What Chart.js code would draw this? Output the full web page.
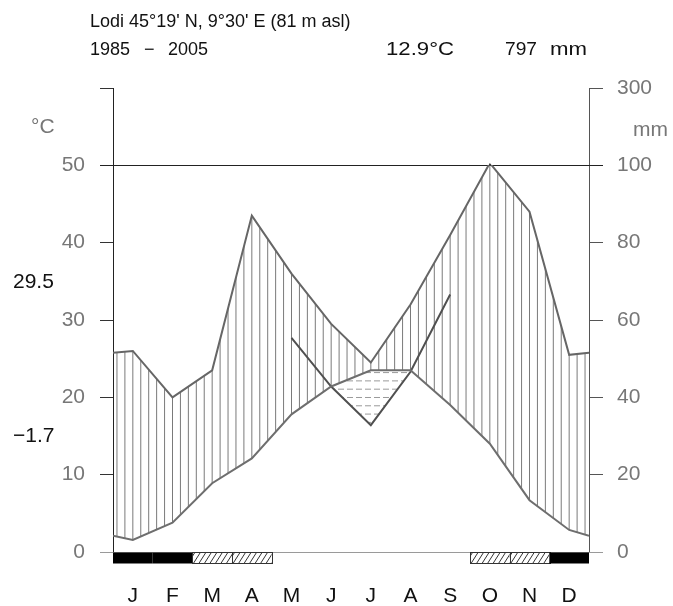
<!DOCTYPE html>
<html>
<head>
<meta charset="utf-8">
<script src="https://cdn.jsdelivr.net/npm/chart.js@4/dist/chart.umd.min.js"></script>
<style>
  html, body { margin: 0; padding: 0; background: #fff; }
</style>
</head>
<body>
<canvas id="klima" width="673" height="606"></canvas>
<script>
const FONT = '"Liberation Sans", Arial, sans-serif';

// monthly means, Lodi 1985-2005
const months = ['J', 'F', 'M', 'A', 'M', 'J', 'J', 'A', 'S', 'O', 'N', 'D'];
const tempC = [1.55, 3.8, 8.9, 12.1, 17.8, 21.4, 23.5, 23.5, 19.0, 14.0, 6.7, 2.85];
const precipMm = [52, 40, 47, 87, 72, 59, 49, 64, 82, 106, 88, 51];
// values at the Dec/Jan boundary, drawn at both edges of the year
const tempWrap = 2.1;
const precipWrap = 51.5;
// summer curve used for the dry-period shading (°C units)
const aridC = [null, null, null, null, 27.7, 21.4, 16.4, 23.3, 33.3, null, null, null];
// frost: 'c' = certain, 'p' = probable
const frost = ['c', 'c', 'p', 'p', '', '', '', '', '', 'p', 'p', 'c'];
const leftTicks = ['0', '10', '20', '30', '40', '50', ''];
const rightTicks = ['0', '20', '40', '60', '80', '100', '300'];

// 2 mm per °C up to 100 mm, compressed 1:10 above
const mmToC = mm => mm <= 100 ? mm / 2 : 50 + (mm - 100) / 20;

function withEdges(vals, edge) {
    const pts = [{ x: 0.5, y: edge }];
    vals.forEach((v, i) => pts.push({ x: i + 1, y: v }));
    pts.push({ x: 12.5, y: edge });
    return pts;
}

const rainPts = withEdges(precipMm.map(mmToC), mmToC(precipWrap));
const tempPts = withEdges(tempC, tempWrap);
const aridPts = [];
aridC.forEach((v, i) => { if (v !== null) aridPts.push({ x: i + 1, y: v }); });

function tracePath(ctx, pts, start) {
    pts.forEach((p, i) => (i || !start) ? ctx.lineTo(p.x, p.y) : ctx.moveTo(p.x, p.y));
}

// text squeezed/stretched to a given width
function fitText(ctx, txt, x, y, w) {
    const m = ctx.measureText(txt).width;
    ctx.save();
    ctx.translate(x, y);
    ctx.scale(w / m, 1);
    ctx.fillText(txt, 0, 0);
    ctx.restore();
}

const walterLieth = {
    id: 'walterLieth',
    beforeDatasetsDraw(chart) {
        const { ctx, chartArea: a, scales } = chart;
        const rain = chart.getDatasetMeta(0).data;
        const temp = chart.getDatasetMeta(1).data;
        const arid = chart.getDatasetMeta(2).data;
        const y50raw = scales.y.getPixelForValue(50);

        // vertical hatching between rain and temperature
        ctx.save();
        ctx.beginPath();
        ctx.rect(a.left, y50raw, a.right - a.left, a.bottom - y50raw);
        ctx.clip();
        ctx.beginPath();
        tracePath(ctx, rain, true);
        tracePath(ctx, [...temp].reverse(), false);
        ctx.closePath();
        ctx.clip();
        ctx.strokeStyle = '#7a7a7a';
        ctx.lineWidth = 1;
        const step = (a.right - a.left) / 60;
        ctx.beginPath();
        for (let i = 0; i < 60; i++) {
            const x = a.left + (i + 0.5) * step;
            ctx.moveTo(x, a.top);
            ctx.lineTo(x, a.bottom);
        }
        ctx.stroke();
        ctx.restore();

        // rain above 100 mm filled solid
        ctx.save();
        ctx.beginPath();
        ctx.rect(a.left, a.top, a.right - a.left, y50raw - a.top);
        ctx.clip();
        ctx.beginPath();
        tracePath(ctx, rain, true);
        ctx.lineTo(a.right, a.bottom);
        ctx.lineTo(a.left, a.bottom);
        ctx.closePath();
        ctx.fillStyle = '#333';
        ctx.fill();
        ctx.restore();

        // dashed shading where the summer curve drops under temperature
        ctx.save();
        ctx.beginPath();
        tracePath(ctx, temp, true);
        ctx.lineTo(a.right, a.bottom);
        ctx.lineTo(a.left, a.bottom);
        ctx.closePath();
        ctx.clip();
        ctx.beginPath();
        tracePath(ctx, arid, true);
        ctx.lineTo(arid[arid.length - 1].x, a.top);
        ctx.lineTo(arid[0].x, a.top);
        ctx.closePath();
        ctx.clip();
        ctx.setLineDash([6, 3]);
        ctx.strokeStyle = '#9a9a9a';
        ctx.lineWidth = 1;
        ctx.beginPath();
        for (let yy = scales.y.getPixelForValue(23.2); yy < a.bottom; yy += 8.3) {
            ctx.moveTo(a.left, yy);
            ctx.lineTo(a.right, yy);
        }
        ctx.stroke();
        ctx.restore();

        // 0 and 50 °C lines across both axes
        const y0 = Math.round(scales.y.getPixelForValue(0)) + 0.5;
        const y50 = Math.round(y50raw) + 0.5;
        ctx.save();
        ctx.lineWidth = 1;
        ctx.strokeStyle = '#9a9a9a';
        ctx.beginPath(); ctx.moveTo(a.left - 13, y0); ctx.lineTo(a.right + 14, y0); ctx.stroke();
        ctx.strokeStyle = '#222';
        ctx.beginPath(); ctx.moveTo(a.left - 13, y50); ctx.lineTo(a.right + 14, y50); ctx.stroke();
        ctx.restore();
    },
    afterDraw(chart) {
        const { ctx, chartArea: a, scales } = chart;
        const xs = scales.x;
        const top = Math.round(a.bottom) + 0.5;
        const h = 11;

        // frost months under the axis
        ctx.save();
        frost.forEach((f, i) => {
            if (!f) return;
            const x0 = xs.getPixelForValue(i + 0.5);
            const x1 = xs.getPixelForValue(i + 1.5);
            if (f === 'c') {
                ctx.fillStyle = '#000';
                ctx.fillRect(x0, top, x1 - x0, h);
                return;
            }
            ctx.save();
            ctx.beginPath();
            ctx.rect(x0, top, x1 - x0, h);
            ctx.clip();
            ctx.strokeStyle = '#333';
            ctx.lineWidth = 1;
            ctx.beginPath();
            for (let x = x0 - 10; x < x1 + 10; x += 5.5) {
                ctx.moveTo(x, top + h);
                ctx.lineTo(x + 7, top);
            }
            ctx.stroke();
            ctx.restore();
            ctx.strokeStyle = '#333';
            ctx.strokeRect(Math.round(x0) + 0.5, top, Math.round(x1 - x0), h);
        });

        // header and side labels
        ctx.fillStyle = '#111';
        ctx.textBaseline = 'alphabetic';
        ctx.textAlign = 'left';
        ctx.font = '18px ' + FONT;
        ctx.fillText("Lodi 45°19' N, 9°30' E (81 m asl)", 90, 27);
        ctx.fillText('1985', 90, 55);
        ctx.fillText('\u2212', 144, 55);
        ctx.fillText('2005', 168, 55);
        fitText(ctx, '12.9°C', 386, 55, 68);
        fitText(ctx, '797', 505, 55, 32);
        fitText(ctx, 'mm', 550, 55, 37);

        ctx.textBaseline = 'middle';
        ctx.font = '21px ' + FONT;
        ctx.fillText('29.5', 13, 282);
        ctx.fillText('\u22121.7', 13, 436);
        ctx.fillStyle = '#777';
        ctx.fillText('°C', 31, 127);
        ctx.fillText('mm', 633, 130);
        ctx.restore();
    }
};

new Chart(document.getElementById('klima'), {
    type: 'line',
    data: {
        datasets: [
            {
                label: 'mm', data: rainPts, borderColor: '#666', borderWidth: 2, pointRadius: 0, yAxisID: 'y',
                clip: { left: 0, right: 0, bottom: 0, top: -77 }
            },
            { label: '°C', data: tempPts, borderColor: '#6e6e6e', borderWidth: 2, pointRadius: 0, yAxisID: 'y' },
            { label: 'arid', data: aridPts, borderColor: '#505050', borderWidth: 2, pointRadius: 0, yAxisID: 'y' }
        ]
    },
    options: {
        responsive: false,
        animation: false,
        events: [],
        layout: { padding: { top: 88, left: 0, right: 0, bottom: 0 } },
        plugins: { legend: { display: false }, tooltip: { enabled: false } },
        scales: {
            x: {
                type: 'linear', min: 0.5, max: 12.5,
                afterBuildTicks: s => { s.ticks = months.map((m, i) => ({ value: i + 1 })); },
                afterFit: s => { s.height = 54; },
                ticks: {
                    callback: (v, i) => months[i],
                    color: '#111', font: { size: 21, family: FONT }, padding: 32,
                    maxRotation: 0, autoSkip: false
                },
                grid: { display: false, drawTicks: false },
                border: { display: false }
            },
            y: {
                type: 'linear', position: 'left', min: 0, max: 60,
                afterFit: s => { s.width = 113; },
                ticks: {
                    stepSize: 10,
                    callback: (v, i) => leftTicks[i],
                    color: '#777', font: { size: 21, family: FONT }, padding: 15
                },
                grid: { drawOnChartArea: false, tickLength: 13, color: '#333' },
                border: { color: '#222', width: 1 }
            },
            y2: {
                type: 'linear', position: 'right', min: 0, max: 60,
                afterFit: s => { s.width = 84; },
                ticks: {
                    stepSize: 10,
                    callback: (v, i) => rightTicks[i],
                    color: '#777', font: { size: 21, family: FONT }, padding: 14
                },
                grid: { drawOnChartArea: false, tickLength: 14, color: '#555' },
                border: { color: '#555', width: 1 }
            }
        }
    },
    plugins: [walterLieth]
});
</script>
</body>
</html>
